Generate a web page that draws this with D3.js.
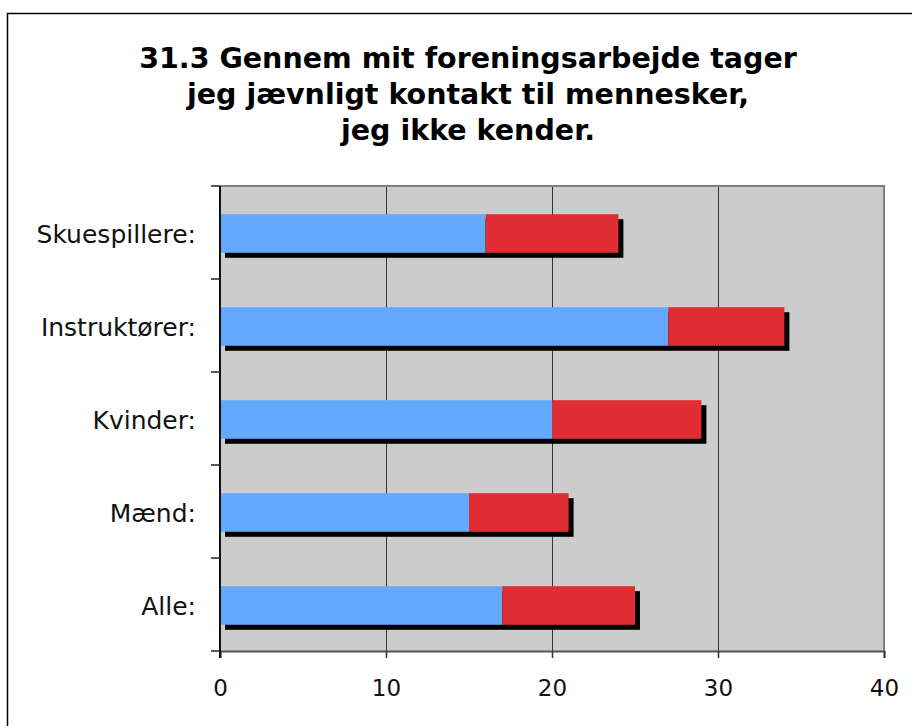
<!DOCTYPE html>
<html><head><meta charset="utf-8">
<script src="https://cdn.jsdelivr.net/npm/d3@7"></script>
<style>body{margin:0;background:#fff}svg{display:block}</style>
</head><body>
<svg id="c" width="912" height="726"></svg>
<script>
const categories = ["Skuespillere:", "Instruktører:", "Kvinder:", "Mænd:", "Alle:"];
const blueValues = [16, 27, 20, 15, 17];
const redValues = [8, 7, 9, 6, 8];
const xTicks = [0, 10, 20, 30, 40];
const titleLines = ["31.3 Gennem mit foreningsarbejde tager", "jeg jævnligt kontakt til mennesker,", "jeg ikke kender."];

const svg = d3.select("#c");
const font = "'DejaVu Sans', Verdana, sans-serif";
// outer frame
svg.append("rect").attr("x", 7.5).attr("y", 13.5).attr("width", 920).attr("height", 730)
  .attr("fill", "#fff").attr("stroke", "#000").attr("stroke-width", 1.5);

const L = 220, R = 884, T = 186, B = 651;
const x = d3.scaleLinear().domain([0, 40]).range([L, R]);
const y = d3.scaleBand().domain(categories).range([T, B]);

// plot background
svg.append("rect").attr("x", L).attr("y", T).attr("width", R - L).attr("height", B - T).attr("fill", "#cccccc");
// gridlines
svg.append("g").selectAll("line").data(xTicks.slice(1, -1)).join("line")
  .attr("x1", d => x(d) + 0.5).attr("x2", d => x(d) + 0.5).attr("y1", T).attr("y2", B)
  .attr("stroke", "#333").attr("stroke-width", 1);
// border top/right
svg.append("path").attr("d", `M${L},${T} H${R} V${B}`).attr("fill", "none").attr("stroke", "#808080").attr("stroke-width", 2);

const bh = y.bandwidth() * 0.415;
const by = c => y(c) + (y.bandwidth() - bh) / 2 + 1;
const off = 5;
const rows = categories.map((c, i) => ({c, b: blueValues[i], r: redValues[i]}));
const g = svg.append("g");
g.selectAll(".sh").data(rows).join("rect")
  .attr("x", x(0) + off).attr("y", d => by(d.c) + off)
  .attr("width", d => x(d.b + d.r) - x(0)).attr("height", bh).attr("fill", "#000");
g.selectAll(".bl").data(rows).join("rect")
  .attr("x", x(0)).attr("y", d => by(d.c))
  .attr("width", d => x(d.b) - x(0)).attr("height", bh).attr("fill", "#63a9fe");
g.selectAll(".rd").data(rows).join("rect")
  .attr("x", d => x(d.b)).attr("y", d => by(d.c))
  .attr("width", d => x(d.b + d.r) - x(d.b)).attr("height", bh).attr("fill", "#df2d33");

// x axis
const xa = svg.append("g").attr("transform", `translate(0,${B})`)
  .call(d3.axisBottom(x).tickValues(xTicks).tickSize(7).tickPadding(22));
xa.select(".domain").attr("stroke", "#555").attr("stroke-width", 2);
xa.selectAll(".tick line").attr("stroke", "#333").attr("stroke-width", 1.5);
xa.selectAll("text").attr("font-family", font).attr("font-size", 23).attr("fill", "#111");

// y axis
const ya = svg.append("g").attr("transform", `translate(${L},0)`);
ya.append("line").attr("x1", 0).attr("x2", 0).attr("y1", T).attr("y2", B + 7).attr("stroke", "#111").attr("stroke-width", 2);
const bounds = categories.map(c => y(c)).concat([B]);
ya.selectAll(".tk").data(bounds).join("line")
  .attr("x1", -9).attr("x2", 0).attr("y1", d => d).attr("y2", d => d).attr("stroke", "#222").attr("stroke-width", 1.5);
ya.selectAll(".lb").data(categories).join("text")
  .attr("x", -24).attr("y", d => y(d) + y.bandwidth() / 2 + 1).attr("dy", "0.36em")
  .attr("text-anchor", "end").attr("font-family", font).attr("font-size", 25).attr("fill", "#111")
  .text(d => d);

// title
svg.append("g").selectAll("text").data(titleLines).join("text")
  .attr("x", 468).attr("y", (d, i) => 68 + i * 36).attr("text-anchor", "middle")
  .attr("font-family", font).attr("font-weight", "bold").attr("font-size", 28.5).attr("fill", "#000")
  .text(d => d);
</script>
</body></html>
